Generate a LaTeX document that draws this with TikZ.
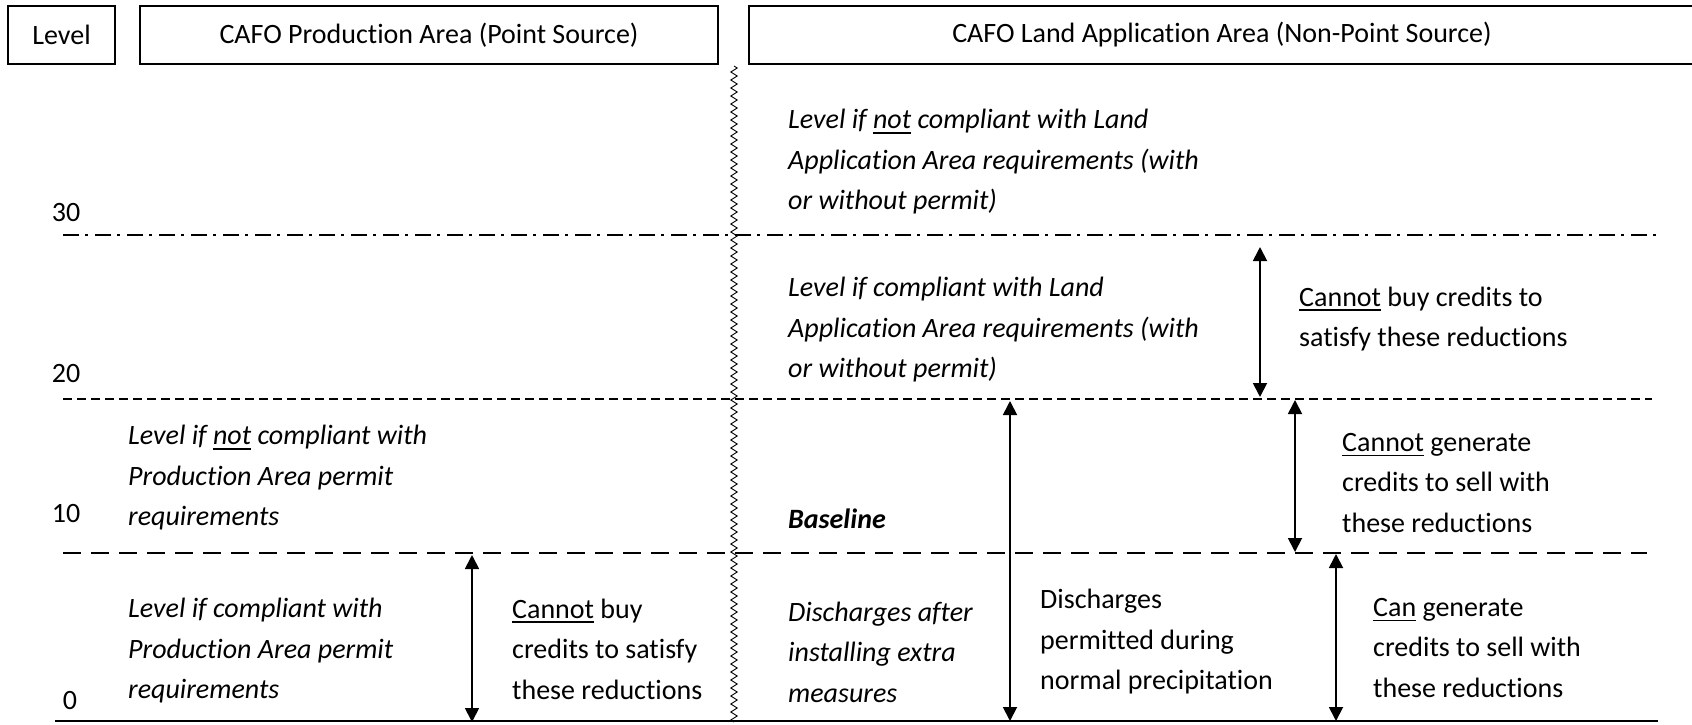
\documentclass[tikz,border=0pt]{standalone}
\usepackage{fontspec}
\setmainfont{Carlito}[Ligatures=NoCommon]
\usetikzlibrary{arrows.meta,decorations.pathmorphing}
\newcommand\myul[1]{\setbox0\hbox{#1}\rlap{\rule[-5pt]{\wd0}{1.8pt}}\box0\relax}
\begin{document}
\begin{tikzpicture}[x=1pt,y=-1pt,
  txt/.style={font=\fontsize{28}{40.5}\selectfont, inner sep=0pt, align=left, anchor=west},
  txti/.style={font=\fontsize{28}{40.5}\selectfont\itshape, inner sep=0pt, align=left, anchor=west},
  hdr/.style={draw, line width=2.2pt, minimum height=58pt, inner sep=0pt, font=\fontsize{28}{34}\selectfont},
  num/.style={font=\fontsize{28}{34}\selectfont, inner sep=0pt},
  dbl/.style={line width=1.8pt, {Triangle[length=14pt,width=14pt]}-{Triangle[length=14pt,width=14pt]}},
  lvl/.style={line width=1.8pt},
  wavy/.style={line width=0.9pt, decorate, decoration={zigzag, segment length=8pt, amplitude=3.2pt}}
]
\useasboundingbox (0,0) rectangle (1692,724);
\clip (0,0) rectangle (1692,724);

% header boxes
\node[hdr, minimum width=107pt] (hlevel) at (61.5,35) {Level};
\node[hdr, minimum width=578pt] (hprod) at (429,35) {CAFO Production Area (Point Source)};
\node[hdr, minimum width=946pt] (hland) at (1222,35) {CAFO Land Application Area (Non-Point Source)};

% level lines
\coordinate (a30) at (63,235); \coordinate (b30) at (1658,235);
\coordinate (a20) at (63,399); \coordinate (b20) at (1652,399);
\coordinate (a10) at (63,553); \coordinate (b10) at (1647,553);
\coordinate (a0) at (55,721);  \coordinate (b0) at (1658,721);
\draw[lvl, dash pattern=on 16pt off 6pt on 3pt off 7pt] (a30) -- (b30);
\draw[lvl, dash pattern=on 9pt off 5pt] (a20) -- (b20);
\draw[lvl, dash pattern=on 18pt off 10pt] (a10) -- (b10);
\draw[line width=2.8pt] (a0) -- (b0);

% wavy divider
\coordinate (wt) at (734,66); \coordinate (wb) at (734,722);
\draw[wavy] (wt) -- (wb);

% level numbers
\node[num] (n30) at (66,213) {30};
\node[num] (n20) at (66,374) {20};
\node[num] (n10) at (66,513) {10};
\node[num] (n0) at (70,700) {0};

% left column texts
\node[txti] (tnotprod) at (128,478) {Level if \myul{not} compliant with\\ Production Area permit\\ requirements};
\node[txti] (tprod) at (128,651) {Level if compliant with\\ Production Area permit\\ requirements};
\node[txt] (tbuyL) at (512,649) {\myul{Cannot} buy\\ credits to satisfy\\ these reductions};

% right column texts
\node[txti] (tnotland) at (788,162) {Level if \myul{not} compliant with Land\\ Application Area requirements (with\\ or without permit)};
\node[txti] (tland) at (788,330) {Level if compliant with Land\\ Application Area requirements (with\\ or without permit)};
\node[txti, font=\fontsize{28}{40.5}\selectfont\bfseries\itshape] (tbase) at (788,519) {Baseline};
\node[txti] (tafter) at (788,652) {Discharges after\\ installing extra\\ measures};
\node[txt] (tperm) at (1040,642) {Discharges\\ permitted during\\ normal precipitation};
\node[txt] (tbuyR) at (1299,319) {\myul{Cannot} buy credits to\\ satisfy these reductions};
\node[txt] (tgenno) at (1342,483) {\myul{Cannot} generate\\ credits to sell with\\ these reductions};
\node[txt] (tgen) at (1373,648) {\myul{Can} generate\\ credits to sell with\\ these reductions};

% arrows
\coordinate (dT) at (472,555); \coordinate (dB) at (472,722);
\coordinate (eT) at (1010,401); \coordinate (eB) at (1010,721);
\coordinate (fT) at (1260,247); \coordinate (fB) at (1260,397);
\coordinate (gT) at (1295,400); \coordinate (gB) at (1295,552);
\coordinate (hT) at (1336,554); \coordinate (hB) at (1336,721);
\draw[dbl] (dT) -- (dB);
\draw[dbl] (eT) -- (eB);
\draw[dbl] (fT) -- (fB);
\draw[dbl] (gT) -- (gB);
\draw[dbl] (hT) -- (hB);
\end{tikzpicture}
\end{document}
